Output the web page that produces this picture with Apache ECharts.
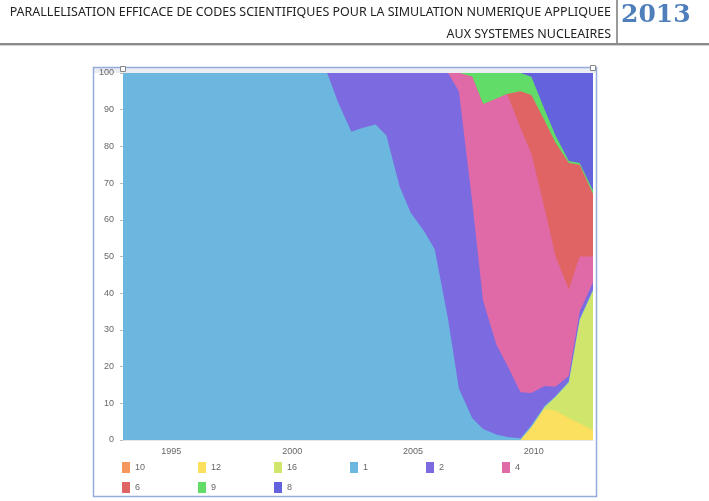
<!DOCTYPE html>
<html>
<head>
<meta charset="utf-8">
<script src="https://cdn.jsdelivr.net/npm/echarts@6/dist/echarts.min.js"></script>
<style>
html, body { margin: 0; padding: 0; background: #fff; }
#main { width: 709px; height: 501px; }
</style>
</head>
<body>
<div id="main"></div>
<script>
// list dates (June ~ .45, November ~ .9), first point sits on the axis origin
var dates = [1993, 1993.45, 1993.9, 1994.45, 1994.9, 1995.45, 1995.9, 1996.45, 1996.9,
  1997.45, 1997.9, 1998.45, 1998.9, 1999.45, 1999.9, 2000.45, 2000.9,
  2001.45, 2001.9, 2002.45, 2002.9, 2003.45, 2003.9, 2004.45, 2004.9, 2005.45, 2005.9,
  2006.45, 2006.9, 2007.45, 2007.9, 2008.45, 2008.9, 2009.45, 2009.9, 2010.45, 2010.9,
  2011.45, 2011.9, 2012.45];

// share of systems (%) per cores-per-socket class, stacked bottom -> top
var v10 = [0, 0, 0, 0, 0, 0, 0, 0, 0, 0, 0, 0, 0, 0, 0, 0, 0,
  0, 0, 0, 0, 0, 0, 0, 0, 0, 0, 0, 0, 0, 0, 0, 0, 0, 0, 0, 0, 0, 0, 0];
var v12 = [0, 0, 0, 0, 0, 0, 0, 0, 0, 0, 0, 0, 0, 0, 0, 0, 0,
  0, 0, 0, 0, 0, 0, 0, 0, 0, 0, 0, 0, 0, 0, 0, 0, 0, 3.5, 8.5, 8, 6, 4.5, 2.7];
var v16 = [0, 0, 0, 0, 0, 0, 0, 0, 0, 0, 0, 0, 0, 0, 0, 0, 0,
  0, 0, 0, 0, 0, 0, 0, 0, 0, 0, 0, 0, 0, 0, 0, 0, 0, 0, 0.5, 3.7, 9.7, 28.2, 38];
var v1 = [100, 100, 100, 100, 100, 100, 100, 100, 100, 100, 100, 100, 100, 100, 100, 100, 100,
  100, 92, 84, 85, 86, 83, 69, 62, 57, 52, 33, 14, 6, 3, 1.5, 0.8, 0.5, 0.5, 0.3, 0.3, 0.3, 0.3, 0.3];
var v2 = [0, 0, 0, 0, 0, 0, 0, 0, 0, 0, 0, 0, 0, 0, 0, 0, 0,
  0, 8, 16, 15, 14, 17, 31, 38, 43, 48, 67, 81, 59, 35, 24.5, 19.6, 12.5, 8.8, 5.4, 2.5, 1.5, 2, 2];
var v4 = [0, 0, 0, 0, 0, 0, 0, 0, 0, 0, 0, 0, 0, 0, 0, 0, 0,
  0, 0, 0, 0, 0, 0, 0, 0, 0, 0, 0, 5, 34, 53.5, 67, 73.9, 72, 65.2, 48.3, 35.5, 23.5, 15, 7];
var v6 = [0, 0, 0, 0, 0, 0, 0, 0, 0, 0, 0, 0, 0, 0, 0, 0, 0,
  0, 0, 0, 0, 0, 0, 0, 0, 0, 0, 0, 0, 0, 0, 0, 0, 10, 16, 24, 31, 34.5, 25, 17];
var v9 = [0, 0, 0, 0, 0, 0, 0, 0, 0, 0, 0, 0, 0, 0, 0, 0, 0,
  0, 0, 0, 0, 0, 0, 0, 0, 0, 0, 0, 0, 1, 8.5, 7, 5.7, 5, 5, 3, 2, 0.5, 0.5, 1];
var v8 = [0, 0, 0, 0, 0, 0, 0, 0, 0, 0, 0, 0, 0, 0, 0, 0, 0,
  0, 0, 0, 0, 0, 0, 0, 0, 0, 0, 0, 0, 0, 0, 0, 0, 0, 1, 10, 17, 24, 24.5, 32];

var names = ["10", "12", "16", "1", "2", "4", "6", "9", "8"];
var values = [v10, v12, v16, v1, v2, v4, v6, v9, v8];
var colors = ["#f6965c", "#fbdf5e", "#cfe56c", "#6cb7e0", "#7b6ae0", "#e06aa8", "#e06464", "#62dc68", "#6462dc"];

var chart = echarts.init(document.getElementById("main"));

// running totals, so each area is filled from 0 up to its stacked top;
// drawn top class first, lower classes painted over it
var running = dates.map(function () { return 0; });
var tops = values.map(function (arr) {
  running = running.map(function (r, i) { return r + arr[i]; });
  return running.slice();
});

var series = [];
for (var k = names.length - 1; k >= 0; k--) {
  series.push({
    name: names[k],
    type: "line",
    symbol: "none",
    lineStyle: { width: 0 },
    areaStyle: { color: colors[k], opacity: 1, origin: "start" },
    itemStyle: { color: colors[k] },
    data: dates.map(function (d, i) { return [d, tops[k][i]]; })
  });
}

// legend laid out as a fixed 6-column grid, one component per entry
var legends = names.map(function (n, i) {
  return {
    data: [n],
    left: 122 + (i % 6) * 76,
    top: 462 + Math.floor(i / 6) * 20,
    padding: 0,
    itemWidth: 8,
    itemHeight: 11,
    icon: "rect",
    selectedMode: false,
    textStyle: { fontSize: 9, color: "#666" }
  };
});

var headFont = "13px 'Noto Sans', sans-serif";

var option = {
  animation: false,
  backgroundColor: "#fff",
  grid: { left: 123, right: 116, top: 73, bottom: 61 },
  xAxis: {
    type: "value",
    min: 1993,
    max: 2012.45,
    interval: 1,
    axisLine: { show: true, lineStyle: { color: "#e4e4ea", width: 1 } },
    axisTick: { show: false },
    splitLine: { show: false },
    axisLabel: {
      fontSize: 9,
      color: "#666",
      margin: 7,
      showMaxLabel: false,
      formatter: function (v) { return v % 5 === 0 ? String(v) : ""; }
    }
  },
  yAxis: {
    type: "value",
    min: 0,
    max: 100,
    interval: 10,
    axisLine: { show: false },
    axisTick: { show: true, length: 3, lineStyle: { color: "#bbb" } },
    splitLine: { show: false },
    axisLabel: { fontSize: 9, color: "#666", margin: 9 }
  },
  legend: legends,
  graphic: [
    // page header
    { type: "text", x: 611, y: 6, scaleX: 0.96,
      style: { text: "PARALLELISATION EFFICACE DE CODES SCIENTIFIQUES POUR LA SIMULATION NUMERIQUE APPLIQUEE",
        textAlign: "right", font: headFont, fill: "#222" } },
    { type: "text", x: 611, y: 28, scaleX: 0.96,
      style: { text: "AUX SYSTEMES NUCLEAIRES", textAlign: "right", font: headFont, fill: "#222" } },
    { type: "text", x: 621, y: 3,
      style: { text: "2013", font: "bold 25px 'DejaVu Serif', serif", fill: "#4f7fbb" } },
    { type: "rect", shape: { x: 616, y: 0, width: 2, height: 44 }, style: { fill: "#9a9a9a" } },
    { type: "rect", shape: { x: 0, y: 43, width: 709, height: 2 }, style: { fill: "#8a8a8a" } },
    { type: "rect", shape: { x: 0, y: 45, width: 709, height: 1 }, style: { fill: "#d4d4d4" } },
    // chart frame
    { type: "rect", shape: { x: 94, y: 68, width: 502, height: 5 }, style: { fill: "#ececf3" } },
    { type: "rect", shape: { x: 93.5, y: 67.5, width: 503, height: 429 },
      style: { fill: "none", stroke: "#93acd9", lineWidth: 1.5 } },
    { type: "rect", shape: { x: 120.5, y: 66.5, width: 5, height: 5 },
      style: { fill: "#fff", stroke: "#888", lineWidth: 1 } },
    { type: "rect", shape: { x: 590.5, y: 65.5, width: 5, height: 5 },
      style: { fill: "#fff", stroke: "#888", lineWidth: 1 } },
    // "Show all" zoom button
    { type: "circle", shape: { cx: 538, cy: 81, r: 3.5 }, style: { fill: "none", stroke: "#223", lineWidth: 1.5 } },
    { type: "line", shape: { x1: 540.5, y1: 83.5, x2: 543, y2: 86 }, style: { stroke: "#223", lineWidth: 2 } },
    { type: "text", x: 548, y: 78, style: { text: "Show all", font: "9px 'DejaVu Sans', sans-serif", fill: "#444" } }
  ],
  series: series
};

chart.setOption(option);
</script>
</body>
</html>
